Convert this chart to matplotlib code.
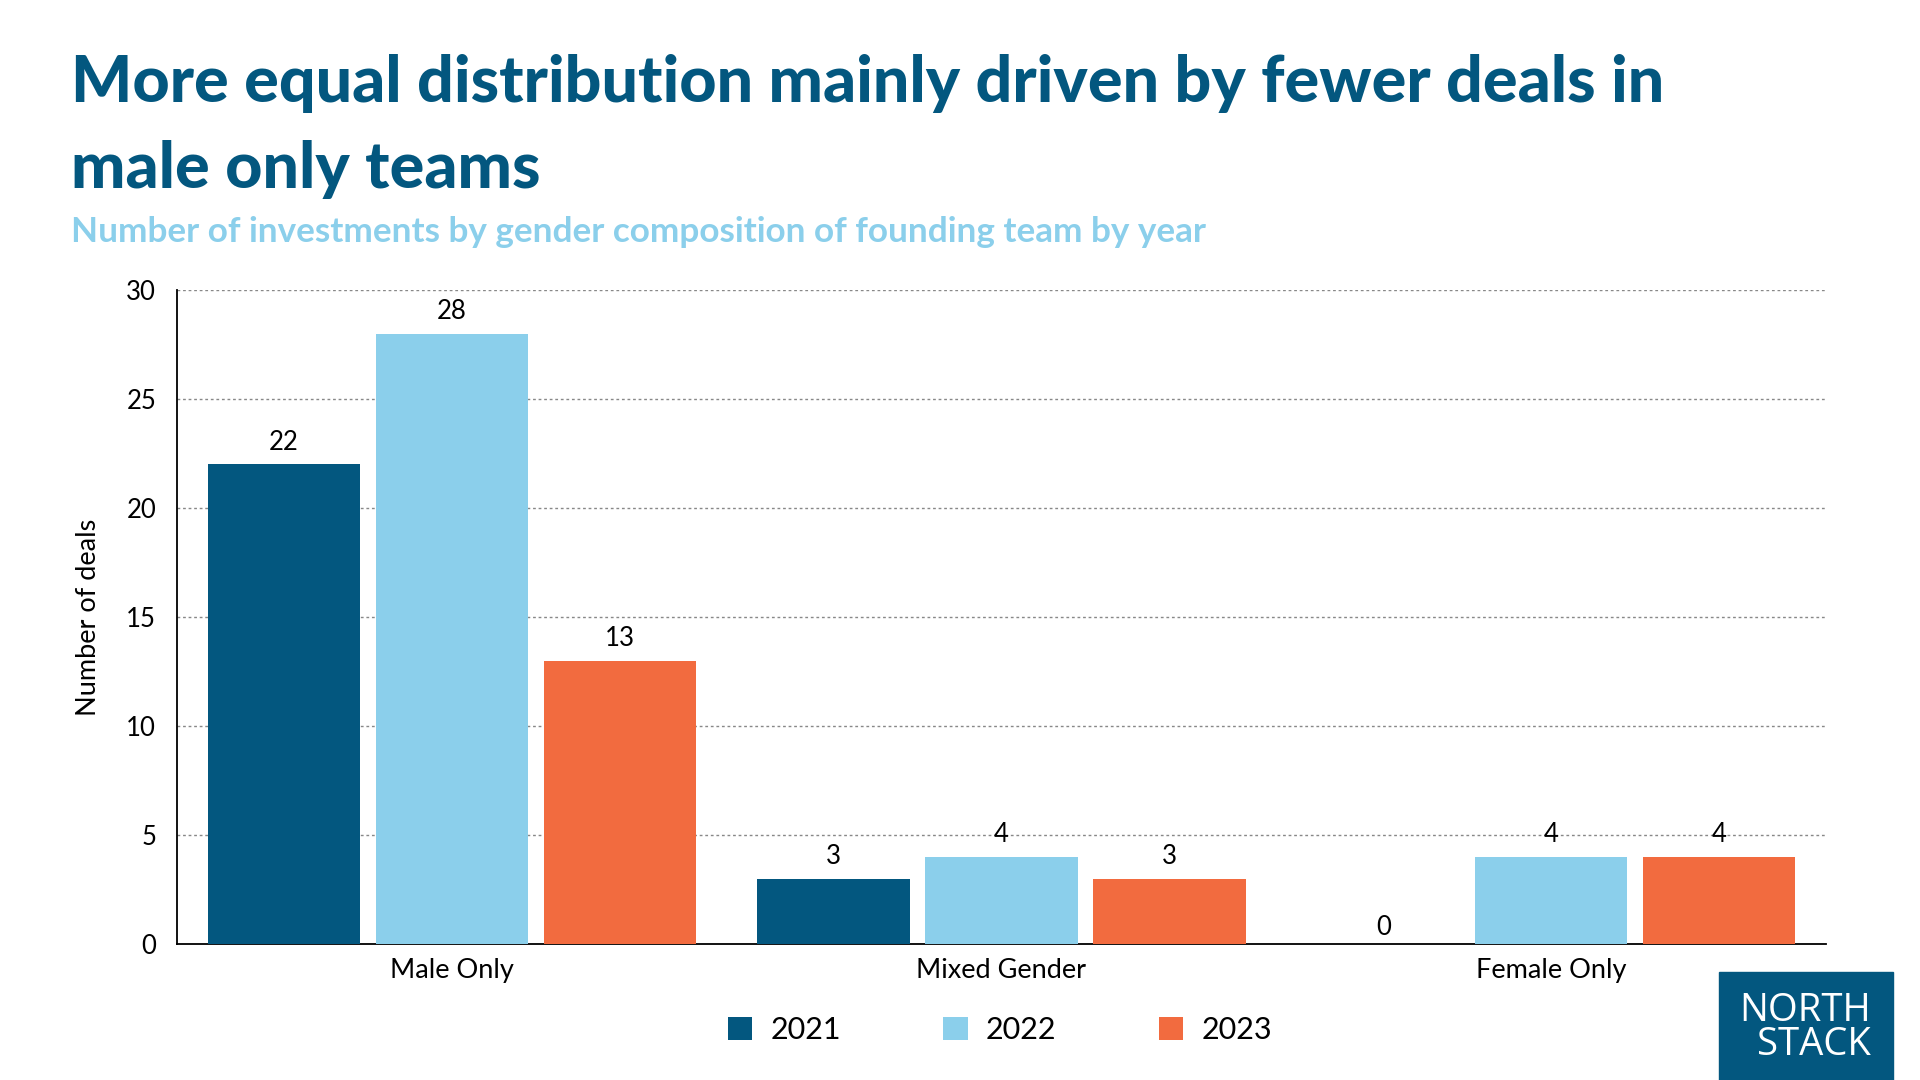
import matplotlib
matplotlib.use("Agg")
import matplotlib.pyplot as plt
from matplotlib.patches import Rectangle
import numpy as np

plt.rcParams['font.family'] = ['Lato', 'DejaVu Sans']

categories = ["Male Only", "Mixed Gender", "Female Only"]
years = ["2021", "2022", "2023"]
values_2021 = [22, 3, 0]
values_2022 = [28, 4, 4]
values_2023 = [13, 3, 4]
series = [values_2021, values_2022, values_2023]
colors = ["#03577F", "#8BCFEB", "#F26B3F"]
yticks = [0, 5, 10, 15, 20, 25, 30]

title_color = "#03577F"
subtitle_color = "#8BCFEB"

W, H = 1920, 1080
fig = plt.figure(figsize=(19.2, 10.8), dpi=100)

def fx(px):
    return px / W

def fy(py):
    return 1 - py / H

ax = fig.add_axes([fx(177), fy(944), fx(1826) - fx(177), fy(290) - fy(944)])

x = np.arange(len(categories))
width = 0.277
step = 0.3056
for i, (vals, col, yr) in enumerate(zip(series, colors, years)):
    pos = x + (i - 1) * step
    bars = ax.bar(pos, vals, width=width, color=col, label=yr, zorder=3)
    for b, v in zip(bars, vals):
        ax.annotate(str(v), (b.get_x() + b.get_width() / 2, v),
                    xytext=(0, 3 if v == 0 else 7), textcoords="offset points",
                    ha="center", va="bottom", fontsize=18.5, color="black")

ax.set_xlim(-0.5, 2.5)
ax.set_ylim(0, 30)
ax.set_yticks(yticks)
ax.set_yticklabels([str(t) for t in yticks], fontsize=18.5)
ax.set_xticks(x)
ax.set_xticklabels(categories, fontsize=19.5)
ax.tick_params(axis="both", length=0)
ax.tick_params(axis="y", pad=15)
ax.tick_params(axis="x", pad=10)
for t in yticks[1:]:
    ax.axhline(t, color="#888888", linestyle=(0, (2, 2)), linewidth=1.0, zorder=1)
for s in ["top", "right"]:
    ax.spines[s].set_visible(False)
ax.spines["left"].set_color("black")
ax.spines["bottom"].set_color("black")
ax.spines["left"].set_linewidth(1.3)
ax.spines["bottom"].set_linewidth(1.3)
ax.set_ylabel("Number of deals", fontsize=19.5, labelpad=18)

# Titles
fig.text(fx(71), fy(102), "More equal distribution mainly driven by fewer deals in",
         fontsize=46.5, fontweight="black", color=title_color, va="baseline", ha="left")
fig.text(fx(71), fy(188), "male only teams",
         fontsize=46.5, fontweight="black", color=title_color, va="baseline", ha="left")
fig.text(fx(71), fy(242), "Number of investments by gender composition of founding team by year",
         fontsize=25.3, fontweight="bold", color=subtitle_color, va="baseline", ha="left")

# Legend
handles, labels = ax.get_legend_handles_labels()
leg = fig.legend(handles, labels, loc="center", bbox_to_anchor=(fx(1000), fy(1030)),
                 ncol=3, frameon=False, fontsize=22, handlelength=0.8, handleheight=0.8,
                 handletextpad=0.6, columnspacing=3.35)

# Logo
fig.patches.append(Rectangle((fx(1719), fy(1080)), fx(1893) - fx(1719), fy(972) - fy(1080),
                             transform=fig.transFigure, color=title_color, zorder=5))
fig.text(fx(1805), fy(1011), "NORTH", fontsize=27.5, color="white", ha="center", va="center",
         zorder=6, fontweight="medium", family=["Open Sans", "DejaVu Sans"])
fig.text(fx(1814), fy(1045), "STACK", fontsize=27.5, color="white", ha="center", va="center",
         zorder=6, fontweight="medium", family=["Open Sans", "DejaVu Sans"])

fig.savefig("out.png", dpi=100)
